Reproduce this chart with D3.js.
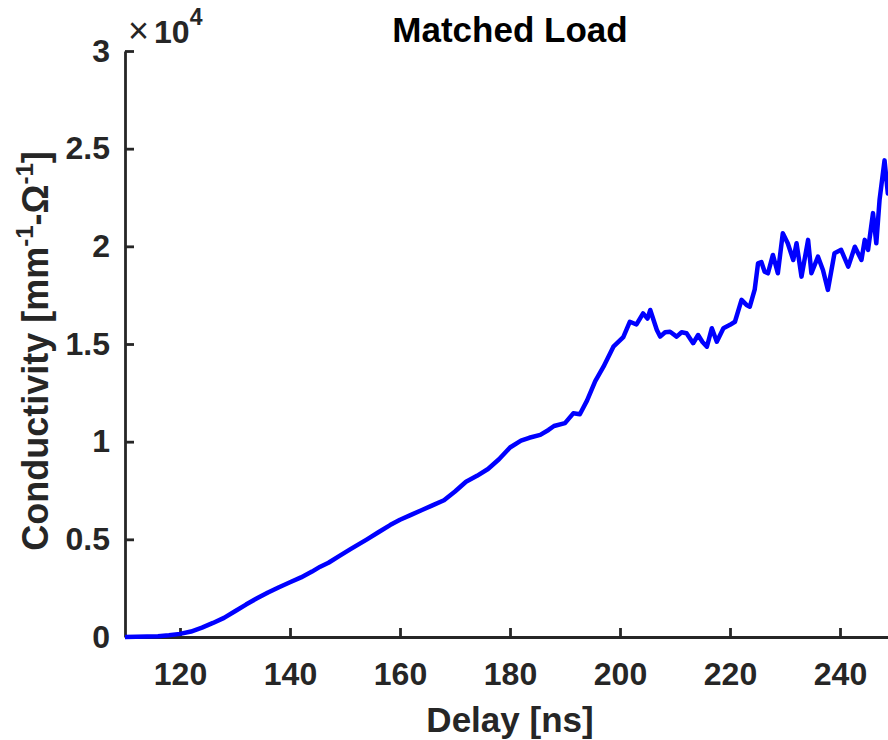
<!DOCTYPE html>
<html>
<head>
<meta charset="utf-8">
<script src="https://cdn.jsdelivr.net/npm/d3@7"></script>
<style>
  body { margin: 0; background: #fff; }
  text { font-family: "Liberation Sans", Arial, sans-serif; }
</style>
</head>
<body>
<div id="vis"></div>
<script>
// delay in ns
const delay = [
  110, 112, 114, 116, 118, 120, 122, 124, 126, 128,
  130, 132, 134, 136, 138, 140, 142, 144, 145.5, 147,
  149, 151, 154, 156, 158.2, 160, 162, 164, 166, 168,
  170, 172, 174, 176, 178, 180, 182, 183.5, 185.5, 187,
  188, 190, 191.5, 192.7, 194, 195.5, 197, 198.8, 200.6, 201.8,
  203, 204.2, 205, 205.5, 206.7, 207.3, 208.2, 209.1, 210.3, 211.2,
  212.1, 213.3, 214.2, 215, 215.8, 216.7, 217.6, 218.8, 220, 220.9,
  222.1, 223, 223.6, 224.5, 225.1, 225.7, 226.3, 226.9, 227.8, 228.7,
  229.6, 230.5, 231.5, 232.1, 233, 234.2, 234.8, 236, 236.9, 237.8,
  239, 240.2, 241.5, 242.7, 243.9, 244.5, 245.1, 246, 246.6, 247.2,
  248.1, 248.7, 249.5
]
// conductivity in mm^-1 Ohm^-1
const conductivity = [
  0, 10, 20, 40, 90, 160, 280, 480, 720, 980,
  1320, 1660, 1980, 2280, 2550, 2800, 3050, 3350, 3600, 3800,
  4150, 4500, 5000, 5350, 5730, 6000, 6250, 6500, 6750, 7000,
  7450, 7950, 8250, 8600, 9100, 9700, 10050, 10200, 10350, 10600,
  10800, 10950, 11450, 11400, 12100, 13100, 13840, 14860, 15350, 16140,
  16000, 16570, 16300, 16740, 15720, 15380, 15600, 15630, 15380, 15600,
  15550, 15040, 15460, 15100, 14860, 15810, 15120, 15810, 15980, 16140,
  17260, 17000, 16910, 17800, 19130, 19200, 18700, 18620, 19560, 18620,
  20670, 20160, 19300, 20160, 18450, 20330, 18620, 19470, 18790, 17770,
  19650, 19820, 18960, 19980, 19300, 20330, 19820, 21700, 20160, 22400,
  24400, 22700, 23000
]
const xTicks = [120, 140, 160, 180, 200, 220, 240]
const yTicks = [0, 5000, 10000, 15000, 20000, 25000, 30000]

const data = delay.map((d, i) => ({delay: d, value: conductivity[i]}))

const width = 888
const height = 740
const plot = {left: 125, right: 895, top: 51, bottom: 637}
const axisColor = '#262626'

const svg = d3.select('#vis')
    .append('svg')
    .attr('width', width)
    .attr('height', height)

let xScale = d3.scaleLinear()
    .domain([110, 250])
    .range([plot.left, plot.right])
let yScale = d3.scaleLinear()
    .domain([0, 30000])
    .range([plot.bottom, plot.top])

// x axis, ticks pointing inward like matlab
let xAxis = svg.append('g')
    .attr('transform', `translate(0,${plot.bottom})`)
    .call(d3.axisBottom(xScale).tickValues(xTicks).tickSize(-9).tickSizeOuter(0).tickPadding(25))
let yAxis = svg.append('g')
    .attr('transform', `translate(${plot.left},0)`)
    .call(d3.axisLeft(yScale).tickValues(yTicks).tickSize(-9).tickSizeOuter(0).tickPadding(15)
        .tickFormat(d => d / 10000))

svg.selectAll('.domain, .tick line')
    .attr('stroke', axisColor)
    .attr('stroke-width', 2.8)
svg.selectAll('.tick text')
    .attr('fill', axisColor)
    .style('font-size', '32px')
    .style('font-weight', 'bold')

// exponent label
let expo = svg.append('text')
    .attr('x', 128)
    .attr('y', 43)
    .attr('fill', axisColor)
    .style('font-size', '36px')
expo.append('tspan').text('×')
expo.append('tspan').attr('dx', 5).style('font-weight', 'bold').style('font-size', '32px').text('10')
expo.append('tspan').attr('dy', -18).style('font-weight', 'bold').style('font-size', '23px').text('4')

// line
const line = d3.line()
    .x(d => xScale(d.delay))
    .y(d => yScale(d.value))

svg.append('path')
    .datum(data)
    .attr('d', line)
    .attr('fill', 'none')
    .attr('stroke', '#0000ff')
    .attr('stroke-width', 4.5)
    .attr('stroke-linejoin', 'round')

// title and labels
svg.append('text')
    .attr('x', (plot.left + plot.right) / 2)
    .attr('y', 42)
    .attr('text-anchor', 'middle')
    .style('font-size', '35px')
    .style('font-weight', 'bold')
    .attr('fill', '#000')
    .text('Matched Load')

svg.append('text')
    .attr('x', (plot.left + plot.right) / 2)
    .attr('y', 732)
    .attr('text-anchor', 'middle')
    .style('font-size', '35px')
    .style('font-weight', 'bold')
    .attr('fill', axisColor)
    .text('Delay [ns]')

let yLabel = svg.append('text')
    .attr('transform', 'rotate(-90)')
    .attr('x', -351)
    .attr('y', 48)
    .attr('text-anchor', 'middle')
    .style('font-size', '36px')
    .style('font-weight', 'bold')
    .attr('fill', axisColor)
yLabel.append('tspan').text('Conductivity [mm')
yLabel.append('tspan').attr('dy', -15).style('font-size', '24px').text('-1')
yLabel.append('tspan').attr('dy', 15).text('-Ω')
yLabel.append('tspan').attr('dy', -15).style('font-size', '24px').text('-1')
yLabel.append('tspan').attr('dy', 15).text(']')
</script>
</body>
</html>
